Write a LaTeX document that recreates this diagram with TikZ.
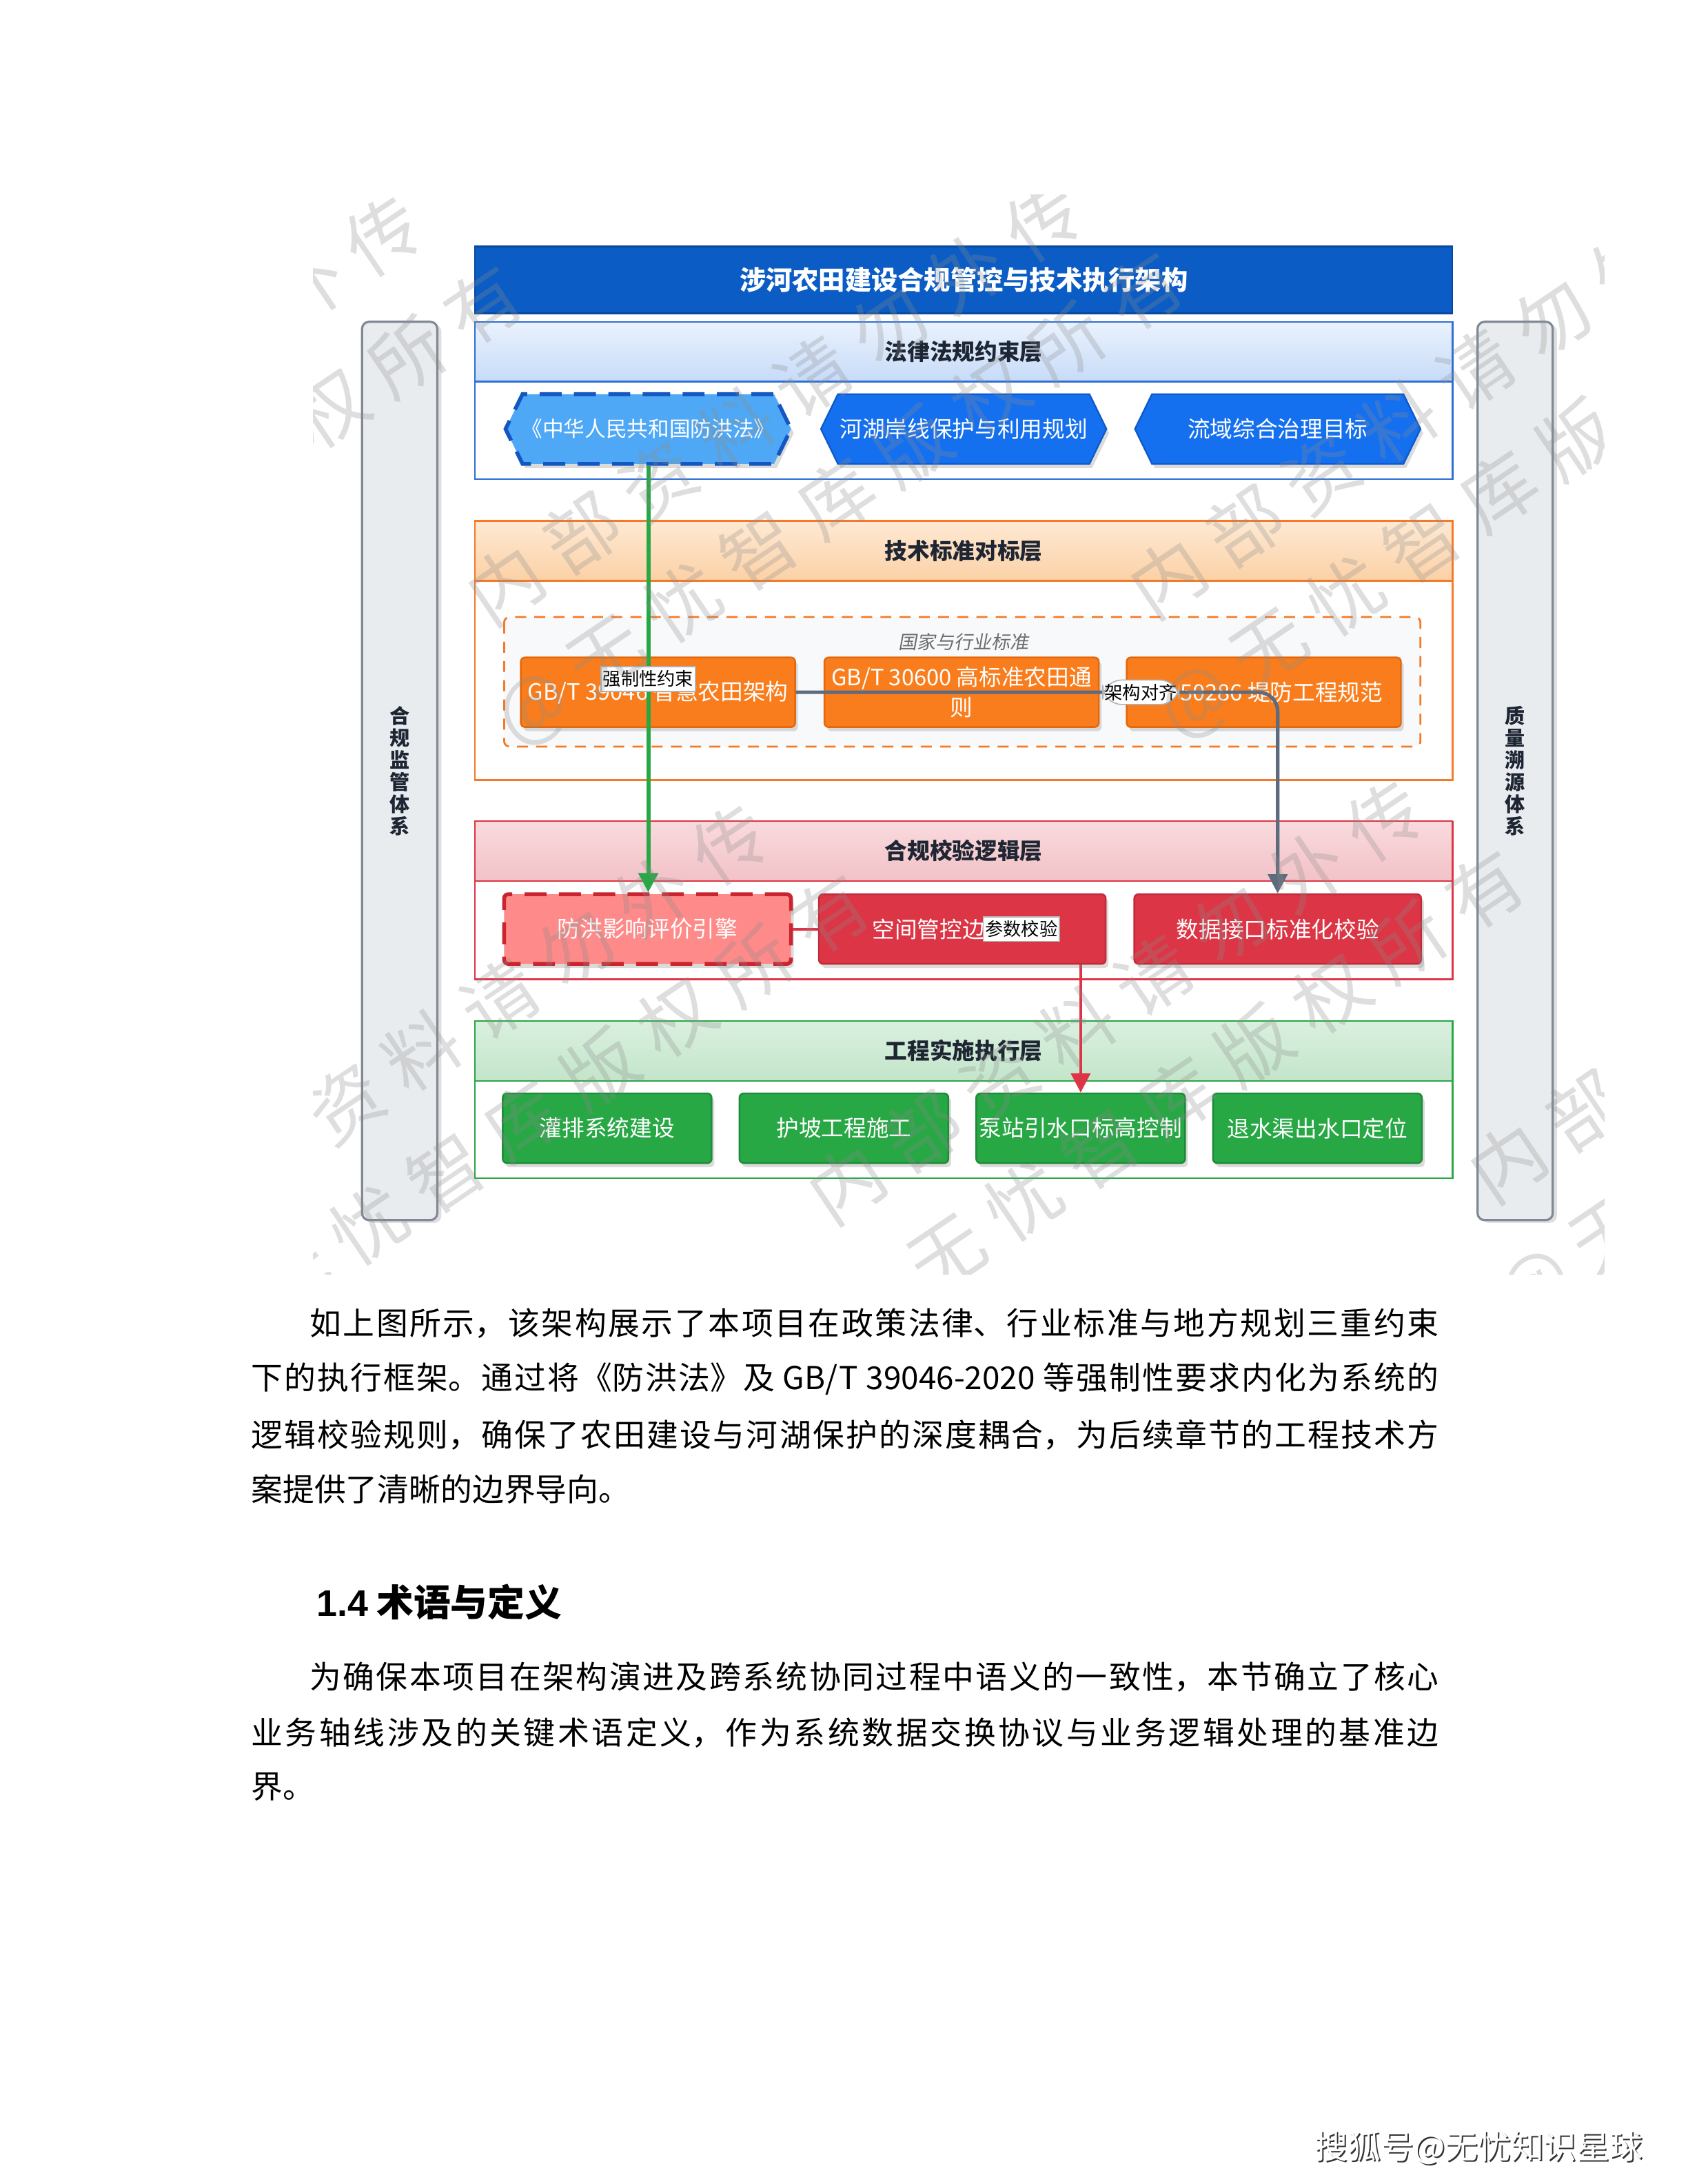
\documentclass[tikz,border=0pt]{standalone}
\usepackage{fontspec}
\setmainfont{Noto Sans CJK SC}
\newfontfamily\cjk{Noto Sans CJK SC}
\newfontfamily\cjkit{Noto Sans CJK SC}[FakeSlant=0.18]
\newfontfamily\wmfont{Noto Sans CJK SC}[LetterSpace=25]
\newfontfamily\arialfont{Liberation Sans}
\usetikzlibrary{shapes.symbols,shadows,arrows.meta,calc}
\XeTeXlinebreaklocale "zh"
\XeTeXlinebreakskip=0pt plus 2pt
\pgfdeclarelayer{back}
\pgfdeclarelayer{mid}
\pgfsetlayers{back,mid,main}
\def\pu{0.017819cm}
\definecolor{titleblue}{HTML}{0B5CC4}
\definecolor{titleedge}{HTML}{084A9E}
\definecolor{blueln}{HTML}{2D6FD4}
\definecolor{hexblue}{HTML}{1570EF}
\definecolor{hexedge}{HTML}{0D5BCB}
\definecolor{hexlight}{HTML}{4FA8F5}
\definecolor{hexdash}{HTML}{1456C2}
\definecolor{hdrblueT}{HTML}{EAF2FD}
\definecolor{hdrblueB}{HTML}{C7DBF8}
\definecolor{orln}{HTML}{F47A2A}
\definecolor{hdrorT}{HTML}{FEE9D3}
\definecolor{hdrorB}{HTML}{FBD1A6}
\definecolor{orbox}{HTML}{F97D1C}
\definecolor{oredge}{HTML}{E4670C}
\definecolor{grpfill}{HTML}{F8F9FB}
\definecolor{redln}{HTML}{DC3545}
\definecolor{hdrredT}{HTML}{F9DADD}
\definecolor{hdrredB}{HTML}{F2C2C7}
\definecolor{redbox}{HTML}{DC3545}
\definecolor{rededge}{HTML}{C22B39}
\definecolor{redlight}{HTML}{FF8A8A}
\definecolor{reddash}{HTML}{C9252F}
\definecolor{grnln}{HTML}{28A745}
\definecolor{hdrgrnT}{HTML}{DAF0DF}
\definecolor{hdrgrnB}{HTML}{C3E5CA}
\definecolor{grnbox}{HTML}{28A745}
\definecolor{grnedge}{HTML}{1F8A39}
\definecolor{barfill}{HTML}{E9ECEF}
\definecolor{baredge}{HTML}{7F8A96}
\definecolor{slate}{HTML}{5D6B7E}
\definecolor{hdrtext}{HTML}{1E2633}
\newcommand\jline[1]{\noindent\parfillskip=0pt\relax #1\par}
\tikzset{
  boxshadow/.style={drop shadow={opacity=0.28, shadow xshift=1pt, shadow yshift=-1.5pt}},
  titlebar/.style={rectangle, fill=titleblue, draw=titleedge, line width=0.6pt, minimum width=12.509cm, minimum height=0.8553cm, inner sep=0pt, text=white, font=\cjk\bfseries\fontsize{9.6}{11}\selectfont},
  hdr/.style={rectangle, draw=#1, line width=0.6pt, minimum width=12.509cm, minimum height=0.7662cm, inner sep=0pt, text=hdrtext, font=\cjk\bfseries\fontsize{8.2}{9}\selectfont},
  layerbox/.style={draw=#1, line width=0.6pt, fill=white},
  hexbase/.style={signal, signal to=west and east, signal pointer angle=128, minimum width=3.6529cm, minimum height=0.8910cm, inner sep=0pt, text=white, font=\cjk\fontsize{8.2}{9.5}\selectfont, boxshadow},
  hexN/.style={hexbase, fill=hexblue, draw=hexedge, line width=0.6pt},
  hexD/.style={hexbase, fill=hexlight, draw=hexdash, line width=1.4pt, dash pattern=on 8pt off 4.5pt, inner xsep=-2.5pt, font=\cjk\fontsize{7.7}{9.5}\selectfont},
  box/.style={rectangle, rounded corners=1.5pt, minimum height=0.8910cm, inner sep=1pt, text=white, align=center, font=\cjk\fontsize{8.2}{11}\selectfont, boxshadow},
  obox/.style={box, fill=orbox, draw=oredge, line width=0.6pt, minimum width=3.5103cm},
  rbox/.style={box, fill=redbox, draw=rededge, line width=0.6pt, minimum width=3.6707cm},
  rboxD/.style={box, fill=redlight, draw=reddash, line width=1.4pt, dash pattern=on 8pt off 4.5pt, minimum width=3.6707cm},
  gbox/.style={box, fill=grnbox, draw=grnedge, line width=0.6pt, minimum width=2.6729cm},
  sidebar/.style={rectangle, rounded corners=2.5pt, fill=barfill, draw=baredge, line width=0.8pt, minimum width=0.9622cm, minimum height=11.4933cm, inner sep=0pt, align=center, text=hdrtext, font=\cjk\bfseries\fontsize{7.3}{8}\selectfont, drop shadow={opacity=0.25, shadow xshift=1.5pt, shadow yshift=-1pt}},
  elabel/.style={rectangle, fill=white, draw=gray!60, line width=0.4pt, inner xsep=0.7pt, inner ysep=1.4pt, font=\cjk\fontsize{6.6}{7.5}\selectfont, text=black},
  arrowtip/.style={-{Triangle[length=7pt,width=7pt]}},
  greenconn/.style={draw=grnln, line width=1.5pt, arrowtip},
  grayconn/.style={draw=slate, line width=1.3pt, rounded corners=7pt, arrowtip},
  redconn/.style={draw=redln, line width=1pt, arrowtip},
  bodyjust/.style={anchor=west, inner sep=0pt, text width=15.1996cm, align=justify, font=\cjk\fontsize{11.5}{14}\selectfont},
  bodyleft/.style={anchor=west, inner sep=0pt, font=\cjk\fontsize{11.5}{14}\selectfont},
  wmark/.style={rotate=34, align=center, inner sep=0pt, font=\wmfont\fontsize{27}{41.5}\selectfont, text=black!45, text opacity=0.28}
}
\begin{document}
\begin{tikzpicture}[x=\pu, y=-\pu]
\useasboundingbox (0,0) rectangle (1212,1568);

% ---------- containers (back layer) ----------
\begin{pgfonlayer}{back}
\fill[white] (0,0) rectangle (1212,1568);
% layer 1
\draw[layerbox=blueln] (341,231) rectangle (1043,344);
\node[hdr=blueln, top color=hdrblueT, bottom color=hdrblueB] (hd1) at (692,252.5) {法律法规约束层};
% layer 2
\draw[layerbox=orln] (341,374) rectangle (1043,560);
\node[hdr=orln, top color=hdrorT, bottom color=hdrorB] (hd2) at (692,395.5) {技术标准对标层};
\draw[draw=orln, line width=0.7pt, dash pattern=on 4pt off 3pt, fill=grpfill, rounded corners=2pt] (362,443) rectangle (1020,536);
\node[font=\cjkit\fontsize{6.8}{8}\selectfont, text=gray!85!black, inner sep=0pt] (grplbl) at (692,461) {国家与行业标准};
% layer 3
\draw[layerbox=redln] (341,590) rectangle (1043,703);
\node[hdr=redln, top color=hdrredT, bottom color=hdrredB] (hd3) at (692,611) {合规校验逻辑层};
% layer 4
\draw[layerbox=grnln] (341,733) rectangle (1043,846);
\node[hdr=grnln, top color=hdrgrnT, bottom color=hdrgrnB] (hd4) at (692,754.5) {工程实施执行层};
\end{pgfonlayer}

% ---------- title and side bars ----------
\node[titlebar] (title) at (692,201) {涉河农田建设合规管控与技术执行架构};
\node[sidebar] (sbL) at (287,553.5) {合\\规\\监\\管\\体\\系};
\node[sidebar] (sbR) at (1088,553.5) {质\\量\\溯\\源\\体\\系};

% ---------- layer 1 nodes ----------
\node[hexD] (hx1) at (465.5,308) {《中华人民共和国防洪法》};
\node[hexN] (hx2) at (692,308) {河湖岸线保护与利用规划};
\node[hexN] (hx3) at (917.5,308) {流域综合治理目标};

% ---------- layer 2 nodes ----------
\node[obox] (o1) at (472.5,497) {GB/T 39046 智慧农田架构};
\node[obox] (o2) at (690.5,497) {GB/T 30600 高标准农田通\\则};
\node[obox] (o3) at (907.5,497) {GB 50286 堤防工程规范};

% ---------- layer 3 nodes ----------
\node[rboxD] (r1) at (465,667) {防洪影响评价引擎};
\node[rbox] (r2) at (691,667) {空间管控边界校验};
\node[rbox] (r3) at (917.5,667) {数据接口标准化校验};

% ---------- layer 4 nodes ----------
\node[gbox] (g1) at (436,810) {灌排系统建设};
\node[gbox] (g2) at (606,810) {护坡工程施工};
\node[gbox] (g3) at (776,810) {泵站引水口标高控制};
\node[gbox] (g4) at (946,810) {退水渠出水口定位};

% ---------- connectors ----------
\begin{pgfonlayer}{mid}
\draw[redconn] (r1.east) -| coordinate[pos=0.397] (plabel) (g3.north);
\end{pgfonlayer}
\node[elabel] (lblr) at (plabel) {参数校验};
\draw[greenconn] (hx1.south) -- node[elabel] (lblg) {强制性约束} (hx1.south |- r1.north);
\draw[grayconn] (o1.east) -| node[elabel, pos=0.358] (lbls) {架构对齐} (r3.north);

% ---------- watermark ----------
\begin{scope}
\clip (225,140) rectangle (1152,915);
\foreach \cx/\cy [count=\i] in {106/335,580/325,1056/320,355/772,825/755,1300/740}{
  \node[wmark] (wm\i) at (\cx,\cy) {内部资料请勿外传\\@无忧智库版权所有};
}
\end{scope}

% ---------- body text ----------
\node[bodyjust] (p1a) at (180,950) {\jline{\hspace*{0.7484cm}如上图所示，该架构展示了本项目在政策法律、行业标准与地方规划三重约束}};
\node[bodyjust] (p1b) at (180,990) {\jline{下的执行框架。通过将《防洪法》及 GB/T 39046-2020 等强制性要求内化为系统的}};
\node[bodyjust] (p1c) at (180,1030) {\jline{逻辑校验规则，确保了农田建设与河湖保护的深度耦合，为后续章节的工程技术方}};
\node[bodyleft] (p1d) at (180,1069) {案提供了清晰的边界导向。};

\node[anchor=west, inner sep=0pt, font=\fontsize{13.5}{16}\selectfont] (h14) at (227,1150) {{\arialfont\bfseries 1.4} {\cjk\bfseries 术语与定义}};

\node[bodyjust] (p2a) at (180,1204) {\jline{\hspace*{0.7484cm}为确保本项目在架构演进及跨系统协同过程中语义的一致性，本节确立了核心}};
\node[bodyjust] (p2b) at (180,1244) {\jline{业务轴线涉及的关键术语定义，作为系统数据交换协议与业务逻辑处理的基准边}};
\node[bodyleft] (p2c) at (180,1283) {界。};

% ---------- footer ----------
\node[anchor=east, inner sep=0pt, font=\cjk\fontsize{12}{14}\selectfont, text=black!80] (footsh) at (1181,1543) {搜狐号@无忧知识星球};
\node[anchor=east, inner sep=0pt, font=\cjk\fontsize{12}{14}\selectfont, text=white] (foot) at (1180,1542) {搜狐号@无忧知识星球};
\end{tikzpicture}
\end{document}
